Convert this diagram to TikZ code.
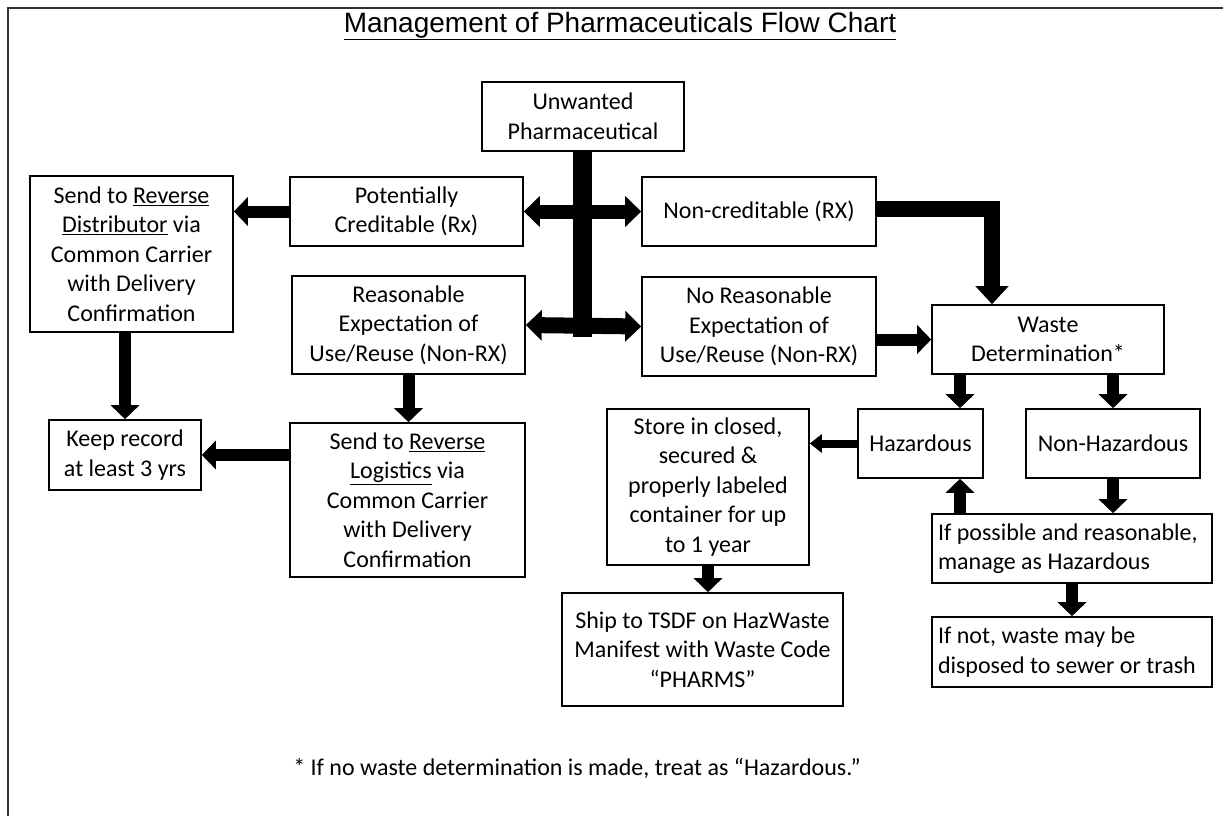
\documentclass[tikz,border=0pt]{standalone}
\usepackage{fontspec}
\setmainfont{Carlito}
\newfontfamily\titlefont{Liberation Sans}
\usetikzlibrary{arrows.meta}
\tikzset{
  box/.style={draw=black, line width=1.6pt, align=center, inner sep=0pt,
    font=\fontsize{24}{29.5}\selectfont},
  lbox/.style={box, align=flush left, text width=268},
  fat/.style={line width=12pt, -{Triangle[length=14pt,width=28pt]}},
  big/.style={line width=14pt, {Triangle[length=16pt,width=30pt]}-{Triangle[length=16pt,width=30pt]}},
  slim/.style={line width=8pt, -{Triangle[length=12pt,width=18pt]}},
}
\begin{document}
\begin{tikzpicture}[x=1pt,y=-1pt]
\useasboundingbox (0,0) rectangle (1223,816);
\draw[line width=1.5pt, color=black!80] (1240,8) -- (8,8) -- (8,830);
\node[font=\titlefont\fontsize{28}{30}\selectfont] (title) at (620,26) {\underline{Management of Pharmaceuticals Flow Chart}};

\node[box, minimum width=202, minimum height=69] (uw) at (583,116.5) {Unwanted\\Pharmaceutical};
\node[box, minimum width=233, minimum height=69] (pc) at (406.5,211.5) {Potentially\\Creditable (Rx)};
\node[box, minimum width=234, minimum height=69] (nc) at (759,211.5) {Non-creditable (RX)};
\node[box, minimum width=203, minimum height=156] (sd) at (131.5,254) {Send to \underline{Reverse}\\\underline{Distributor} via\\Common Carrier\\with Delivery\\Confirmation};
\node[box, minimum width=233, minimum height=98] (re) at (408.5,325) {Reasonable\\Expectation of\\Use/Reuse (Non-RX)};
\node[box, minimum width=234, minimum height=99] (nr) at (759,326.5) {No Reasonable\\Expectation of\\Use/Reuse (Non-RX)};
\node[box, minimum width=232, minimum height=69] (wd) at (1048,339.5) {Waste\\Determination*};
\node[box, minimum width=152, minimum height=70] (kr) at (125,455) {Keep record\\at least 3 yrs};
\node[box, minimum width=235, minimum height=154] (sl) at (407.5,500) {Send to \underline{Reverse}\\\underline{Logistics} via\\Common Carrier\\with Delivery\\Confirmation};
\node[box, minimum width=125, minimum height=69] (hz) at (920.5,443.5) {Hazardous};
\node[box, minimum width=174, minimum height=69] (nh) at (1113,443.5) {Non-Hazardous};
\node[box, minimum width=202, minimum height=156] (st) at (708,487) {Store in closed,\\secured \&\\properly labeled\\container for up\\to 1 year};
\node[lbox, minimum width=280, minimum height=69] (ip) at (1072,548.5) {If possible and reasonable,\\manage as Hazardous};
\node[box, minimum width=281, minimum height=113] (sh) at (702.5,649.5) {Ship to TSDF on HazWaste\\Manifest with Waste Code\\“PHARMS”};
\node[lbox, minimum width=280, minimum height=70] (in) at (1072,652) {If not, waste may be\\disposed to sewer or trash};

\node[font=\fontsize{24}{26}\selectfont] (fn) at (577,768) {* If no waste determination is made, treat as “Hazardous.”};

% trunk
\coordinate (tb) at (582,337);
\draw[line width=19pt] (uw.south -| tb) -- (tb);
\draw[big] (pc.east) -- (nc.west);
\draw[big, line width=16pt] (re.east) -- (nr.west);
% elbow
\coordinate (el) at (992,209);
\draw[line width=16pt, line join=miter, -{Triangle[length=18pt,width=32pt]}] (nc.east |- el) -- (el) -- (el |- wd.north);
\draw[fat] (nr.east |- wd.west) -- (wd.west);
% left side
\draw[fat] (pc.west) -- (sd.east |- pc.west);
\draw[fat] (kr.north |- sd.south) -- (kr.north);
\draw[fat] (re.south) -- (re.south |- sl.north);
\draw[fat] (sl.west |- kr.east) -- (kr.east);
% right side
\coordinate (hx) at (960,0);
\draw[fat] (wd.south -| hx) -- (hz.north -| hx);
\draw[fat] (wd.south -| nh.north) -- (nh.north);
\draw[slim] (hz.west) -- (st.east |- hz.west);
\draw[fat] (ip.north -| hx) -- (hz.south -| hx);
\draw[fat] (nh.south) -- (ip.north -| nh.south);
\draw[fat] (ip.south) -- (in.north);
\draw[fat] (st.south) -- (st.south |- sh.north);
\end{tikzpicture}
\end{document}
